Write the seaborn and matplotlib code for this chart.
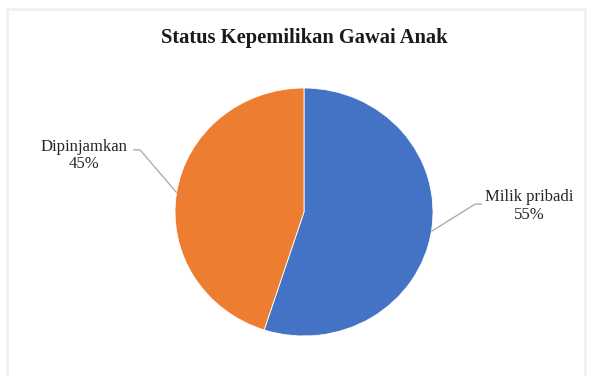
import numpy as np
import matplotlib
matplotlib.use("Agg")
import matplotlib.pyplot as plt
import seaborn as sns
from matplotlib.patches import Rectangle

# Data
categories = ["Milik pribadi", "Dipinjamkan"]
values = [55, 45]
title_text = "Status Kepemilikan Gawai Anak"

sns.set_theme(style="white")
plt.rcParams['font.family'] = ['Liberation Serif', 'DejaVu Serif']

colors = ["#4472C4", "#ED7D31"]

W, H = 593, 376
fig = plt.figure(figsize=(W / 100, H / 100), dpi=100)
fig.patch.set_facecolor("white")

# light chart frame
fig.patches.append(Rectangle((7 / W, -0.05), (585 - 7) / W, (H - 9) / H + 0.05,
                             transform=fig.transFigure, fill=False,
                             edgecolor="#efefef", linewidth=1.8))

ax = fig.add_axes([0, 0, 1, 1])
cx, cy, rx, ry = 304, 212, 129, 124

wedges, _ = ax.pie(values, colors=colors, startangle=90, counterclock=False,
                   radius=1.0, center=(0, 0), frame=False,
                   wedgeprops=dict(linewidth=0.6, edgecolor="white"))
ax.set_aspect("auto")
ax.set_xlim(-cx / rx, (W - cx) / rx)
ax.set_ylim((cy - H) / ry, cy / ry)
ax.axis("off")

total = sum(values)
line_c = "#a6a6a6"
for w, cat, v in zip(wedges, categories, values):
    mid = np.deg2rad((w.theta1 + w.theta2) / 2)
    ex, ey = np.cos(mid), np.sin(mid)
    side = 1 if ex > 0 else -1
    if side > 0:
        elbow = (1.326, ey + 0.22)
        end = (1.38, ey + 0.22)
        tx, ty = 1.744, ey + 0.205
    else:
        elbow = (-1.271, ey + 0.345)
        end = (-1.326, ey + 0.345)
        tx, ty = -1.705, ey + 0.30
    ax.plot([ex, elbow[0], end[0]], [ey, elbow[1], end[1]], color=line_c, lw=0.9,
            solid_capstyle="butt")
    ax.text(tx, ty, f"{cat}\n{v / total * 100:.0f}%", ha="center", va="center",
            fontsize=12, color="#262626", linespacing=1.15)

fig.text(304 / W, 1 - 38 / H, title_text, ha="center", va="center",
         fontsize=14.8, fontweight="bold", color="#1a1a1a")

fig.savefig("out.png", dpi=100, facecolor="white")
